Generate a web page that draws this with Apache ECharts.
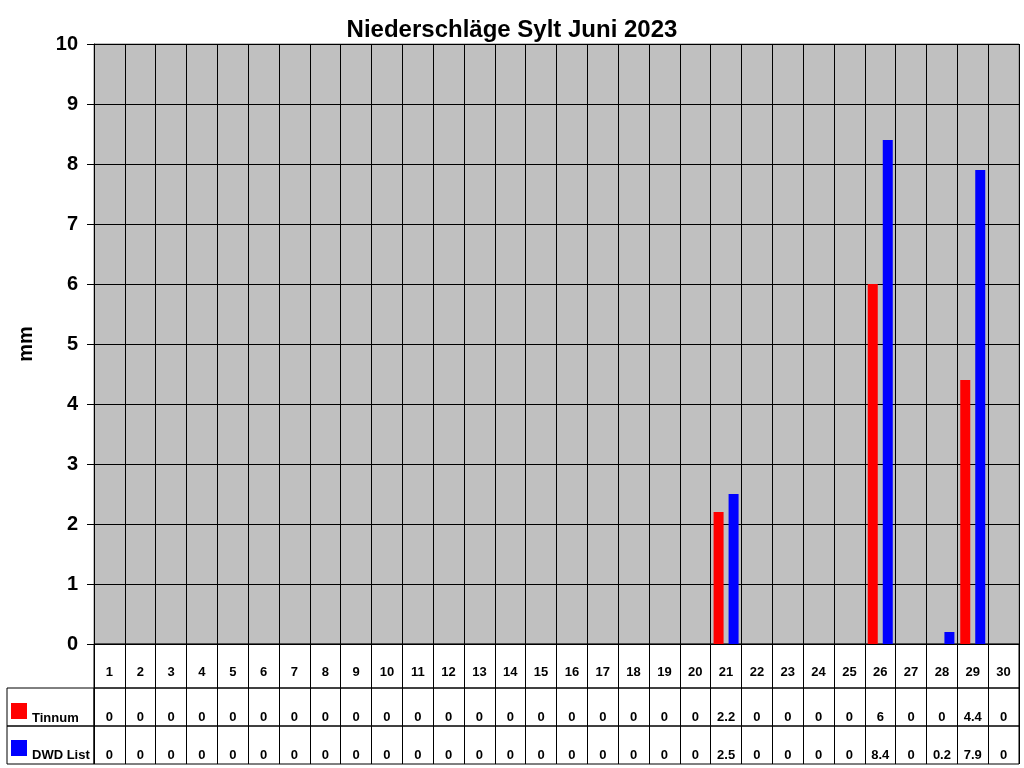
<!DOCTYPE html>
<html>
<head>
<meta charset="utf-8">
<script src="https://cdn.jsdelivr.net/npm/echarts@6/dist/echarts.min.js"></script>
<style>
  html, body { margin: 0; padding: 0; background: #fff; }
  #chart { width: 1024px; height: 768px; }
</style>
</head>
<body>
<div id="chart"></div>
<script>
// days of June 2023
var days = ['1', '2', '3', '4', '5', '6', '7', '8', '9', '10',
  '11', '12', '13', '14', '15', '16', '17', '18', '19', '20',
  '21', '22', '23', '24', '25', '26', '27', '28', '29', '30'];
// precipitation in mm
var tinnum = [0, 0, 0, 0, 0, 0, 0, 0, 0, 0,
  0, 0, 0, 0, 0, 0, 0, 0, 0, 0,
  2.2, 0, 0, 0, 0, 6, 0, 0, 4.4, 0];
var dwdList = [0, 0, 0, 0, 0, 0, 0, 0, 0, 0,
  0, 0, 0, 0, 0, 0, 0, 0, 0, 0,
  2.5, 0, 0, 0, 0, 8.4, 0, 0.2, 7.9, 0];
var yTicks = [0, 10, 1]; // min, max, step

var FONT = 'Arial, "Liberation Sans", sans-serif';
var RED = '#ff0000', BLUE = '#0000ff';
var L = 94, R = 5;

function tableX(idx, values) {
  return {
    type: 'category', gridIndex: idx, data: days, position: 'bottom',
    axisLine: { show: false }, axisTick: { show: false },
    splitLine: { show: true, interval: 0, lineStyle: { color: '#000', width: 1 } },
    axisLabel: {
      inside: true, margin: 2, interval: 0,
      fontFamily: FONT, fontWeight: 'bold', fontSize: 13, color: '#000',
      formatter: function (v, i) { return String(values[i]); }
    }
  };
}
function tableY(idx) {
  return { type: 'value', gridIndex: idx, show: false, min: 0, max: 1 };
}

var chart = echarts.init(document.getElementById('chart'));
chart.setOption({
  animation: false,
  title: {
    text: 'Niederschläge Sylt Juni 2023', left: 'center', top: 13,
    textStyle: { fontFamily: FONT, fontWeight: 'bold', fontSize: 24, color: '#000' }
  },
  grid: [
    { left: L, right: R, top: 44, height: 600, show: true, backgroundColor: '#c0c0c0', borderColor: '#808080', borderWidth: 1 },
    { left: L, right: R, top: 644, height: 44, show: true, borderColor: '#000', borderWidth: 1 },
    { left: L, right: R, top: 688, height: 38, show: true, borderColor: '#000', borderWidth: 1 },
    { left: L, right: R, top: 726, height: 38, show: true, borderColor: '#000', borderWidth: 1 }
  ],
  xAxis: [
    {
      type: 'category', gridIndex: 0, data: days,
      axisLine: { lineStyle: { color: '#000', width: 1 } },
      axisTick: { show: false },
      splitLine: { show: true, interval: 0, lineStyle: { color: '#000', width: 1 } },
      axisLabel: { show: false }
    },
    {
      type: 'category', gridIndex: 1, data: days, position: 'bottom',
      axisLine: { show: false }, axisTick: { show: false },
      splitLine: { show: true, interval: 0, lineStyle: { color: '#000', width: 1 } },
      axisLabel: {
        inside: true, margin: 9, interval: 0,
        fontFamily: FONT, fontWeight: 'bold', fontSize: 13, color: '#000'
      }
    },
    tableX(2, tinnum),
    tableX(3, dwdList)
  ],
  yAxis: [
    {
      type: 'value', gridIndex: 0, min: yTicks[0], max: yTicks[1], interval: yTicks[2],
      name: 'mm', nameLocation: 'middle', nameGap: 58, nameRotate: 90,
      nameTextStyle: { fontFamily: FONT, fontWeight: 'bold', fontSize: 20, color: '#000' },
      axisLine: { show: true, lineStyle: { color: '#000', width: 1 } },
      axisTick: { show: true, length: 7, lineStyle: { color: '#000' } },
      splitLine: { show: true, lineStyle: { color: '#000', width: 1 } },
      axisLabel: { margin: 16, fontFamily: FONT, fontWeight: 'bold', fontSize: 20, color: '#000' }
    },
    tableY(1), tableY(2), tableY(3)
  ],
  series: [
    {
      name: 'Tinnum', type: 'bar', xAxisIndex: 0, yAxisIndex: 0,
      data: tinnum, barWidth: 10, barGap: '50%',
      itemStyle: { color: RED }
    },
    {
      name: 'DWD List', type: 'bar', xAxisIndex: 0, yAxisIndex: 0,
      data: dwdList, barWidth: 10, barGap: '50%',
      itemStyle: { color: BLUE }
    }
  ],
  graphic: [
    { type: 'rect', shape: { x: 7, y: 688, width: L - 7, height: 38 }, style: { fill: 'none', stroke: '#000', lineWidth: 1 } },
    { type: 'rect', shape: { x: 7, y: 726, width: L - 7, height: 38 }, style: { fill: 'none', stroke: '#000', lineWidth: 1 } },
    { type: 'rect', shape: { x: 11, y: 703, width: 16, height: 16 }, style: { fill: RED } },
    { type: 'rect', shape: { x: 11, y: 740, width: 16, height: 16 }, style: { fill: BLUE } },
    { type: 'text', x: 32, y: 725, style: { text: 'Tinnum', fill: '#000', font: 'bold 13px ' + FONT, textVerticalAlign: 'bottom' } },
    { type: 'text', x: 32, y: 762, style: { text: 'DWD List', fill: '#000', font: 'bold 13px ' + FONT, textVerticalAlign: 'bottom' } }
  ]
});
</script>
</body>
</html>
